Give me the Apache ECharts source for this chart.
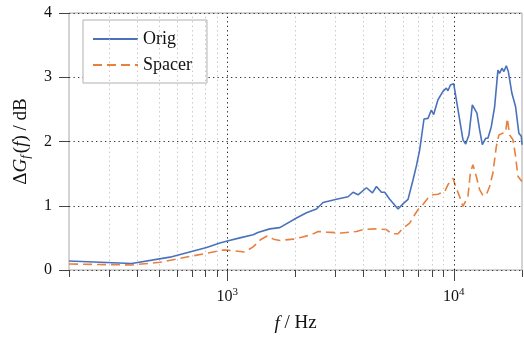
<!DOCTYPE html>
<html><head><meta charset="utf-8">
<script src="https://cdn.jsdelivr.net/npm/echarts@6/dist/echarts.min.js"></script>
<style>html,body{margin:0;padding:0;background:#fff}#c{width:524px;height:338px}</style>
</head><body><div id="c"></div>
<script>
const seriesNames = ['Orig', 'Spacer'];
const freqOrig = [200, 378, 558, 810, 927, 1000, 1136, 1300, 1364, 1540, 1705, 2020, 2237, 2475, 2647, 3034, 3413, 3590, 3776, 4115, 4373, 4554, 4791, 4953, 5212, 5671, 5966, 6279, 6604, 6835, 7069, 7385, 7691, 7960, 8148, 8511, 8955, 9269, 9425, 9656, 9985, 10190, 10610, 10970, 11280, 11660, 12070, 12270, 12650, 13000, 13360, 13820, 14140, 14640, 15140, 15660, 15930, 16300, 16640, 17050, 17400, 18050, 18740, 19370, 19860, 20000];
const gainOrig = [0.14, 0.10, 0.20, 0.35, 0.42, 0.45, 0.50, 0.55, 0.585, 0.64, 0.66, 0.81, 0.89, 0.95, 1.05, 1.10, 1.14, 1.21, 1.17, 1.28, 1.20, 1.30, 1.21, 1.21, 1.10, 0.95, 1.03, 1.10, 1.40, 1.62, 1.87, 2.35, 2.36, 2.49, 2.42, 2.65, 2.78, 2.83, 2.79, 2.88, 2.90, 2.87, 2.34, 2.03, 1.96, 2.10, 2.57, 2.59, 2.44, 2.18, 1.95, 2.05, 2.05, 2.23, 2.54, 3.11, 3.06, 3.14, 3.09, 3.18, 3.09, 2.75, 2.54, 2.13, 2.08, 1.95];
const freqSpacer = [200, 378, 504, 637, 810, 955, 1000, 1194, 1300, 1400, 1500, 1600, 1705, 1952, 2126, 2354, 2517, 2741, 3191, 3716, 3974, 4476, 5040, 5302, 5671, 5966, 6386, 6720, 6948, 7311, 7691, 8092, 8511, 9114, 9425, 9914, 10190, 10610, 10970, 11170, 11540, 11830, 12140, 12560, 13000, 13440, 13910, 14390, 14880, 15400, 15810, 16470, 16930, 17230, 17630, 18230, 18740, 19180, 19860, 20000];
const gainSpacer = [0.093, 0.078, 0.12, 0.19, 0.26, 0.31, 0.31, 0.28, 0.36, 0.47, 0.53, 0.48, 0.46, 0.48, 0.51, 0.55, 0.60, 0.59, 0.575, 0.60, 0.63, 0.64, 0.63, 0.565, 0.565, 0.65, 0.73, 0.86, 0.94, 1.02, 1.12, 1.17, 1.18, 1.22, 1.33, 1.43, 1.30, 1.14, 0.99, 0.96, 1.14, 1.51, 1.64, 1.46, 1.25, 1.16, 1.17, 1.30, 1.51, 1.92, 2.10, 2.13, 2.14, 2.36, 2.10, 2.03, 1.77, 1.46, 1.39, 1.38];
const xMajorTicks = [1000, 10000];
const xMinorTicks = [200, 300, 400, 500, 600, 700, 800, 900, 2000, 3000, 4000, 5000, 6000, 7000, 8000, 9000, 20000];
const xMinorGrid = [300, 400, 500, 600, 700, 800, 900, 2000, 3000, 4000, 5000, 6000, 7000, 8000, 9000];
const yMin = 0, yMax = 4, yStep = 1;

const FONT = 'Liberation Serif';
const BLUE = '#4a72bc';
const ORANGE = '#e8803f';
const pairs = (xs, ys) => xs.map((x, i) => [x, ys[i]]);

const chart = echarts.init(document.getElementById('c'), null, {renderer: 'canvas'});
const baseX = {
  type: 'log', logBase: 10, min: 200, max: 20000, position: 'bottom',
  axisLine: {show: false}, splitLine: {show: false}, minorTick: {show: false}
};
chart.setOption({
  animation: false,
  backgroundColor: '#fff',
  textStyle: {fontFamily: FONT},
  grid: {left: 69, right: 2, top: 13, bottom: 68, show: true, borderColor: '#a8a8a8', borderWidth: 1, backgroundColor: 'transparent'},
  legend: {
    data: seriesNames, orient: 'vertical', left: 83, top: 20,
    padding: [10, 15, 9, 9], itemWidth: 45, itemHeight: 14, itemGap: 8,
    borderColor: '#b0b0b0', borderWidth: 1, borderRadius: 0, backgroundColor: '#fff',
    itemStyle: {opacity: 0},
    textStyle: {fontFamily: FONT, fontSize: 18, color: '#111'}
  },
  xAxis: [
    Object.assign({}, baseX, {
      axisTick: {show: true, customValues: xMinorTicks, length: 7, lineStyle: {color: '#444', width: 1}},
      axisLabel: {show: false}
    }),
    Object.assign({}, baseX, {
      name: '{i|f}{n| / Hz}', nameLocation: 'middle', nameGap: 44,
      nameTextStyle: {rich: {
        i: {fontFamily: FONT, fontSize: 19, fontStyle: 'italic', color: '#111'},
        n: {fontFamily: FONT, fontSize: 19, color: '#111'}
      }},
      axisTick: {show: true, customValues: xMajorTicks, length: 11, lineStyle: {color: '#444', width: 1}},
      axisLabel: {
        show: true, customValues: xMajorTicks, margin: 17,
        formatter: v => '{b|10}{s|' + Math.round(Math.log10(v)) + '}',
        rich: {
          b: {fontFamily: FONT, fontSize: 16, lineHeight: 20, color: '#111'},
          s: {fontFamily: FONT, fontSize: 11, lineHeight: 11, verticalAlign: 'top', color: '#111'}
        }
      }
    })
  ],
  yAxis: {
    type: 'value', min: yMin, max: yMax, interval: yStep,
    name: '{n|Δ}{i|G}{sub|f}{n|(}{i|f}{n|) / dB}', nameLocation: 'middle', nameGap: 37,
    nameTextStyle: {rich: {
      n: {fontFamily: FONT, fontSize: 19, lineHeight: 22, color: '#111'},
      i: {fontFamily: FONT, fontSize: 19, lineHeight: 22, fontStyle: 'italic', color: '#111'},
      sub: {fontFamily: FONT, fontSize: 13, lineHeight: 13, fontStyle: 'italic', verticalAlign: 'bottom', padding: [0, 2, 0, 0], color: '#111'}
    }},
    axisLine: {show: false},
    axisTick: {show: true, length: 10, lineStyle: {color: '#444'}},
    axisLabel: {fontFamily: FONT, fontSize: 16, color: '#111', margin: 17},
    splitLine: {show: true, lineStyle: {color: '#333', type: [1.3, 3.2], width: 1}}
  },
  series: [
    {
      name: '_grid', type: 'line', data: [], z: 1, silent: true,
      markLine: {
        silent: true, symbol: 'none', label: {show: false}, animation: false,
        data: xMinorGrid.map(v => ({xAxis: v, lineStyle: {color: '#c4c4c4', type: [1.3, 3.2], width: 1}}))
          .concat(xMajorTicks.map(v => ({xAxis: v, lineStyle: {color: '#222', type: [1.3, 3.2], width: 1}})))
      }
    },
    {
      name: 'Orig', type: 'line', z: 5, data: pairs(freqOrig, gainOrig),
      showSymbol: false, symbol: 'none', color: BLUE,
      lineStyle: {color: BLUE, width: 1.6}
    },
    {
      name: 'Spacer', type: 'line', z: 4, data: pairs(freqSpacer, gainSpacer),
      showSymbol: false, symbol: 'none', color: ORANGE,
      lineStyle: {color: ORANGE, width: 1.6, type: [9, 5]}
    }
  ]
});
</script></body></html>
